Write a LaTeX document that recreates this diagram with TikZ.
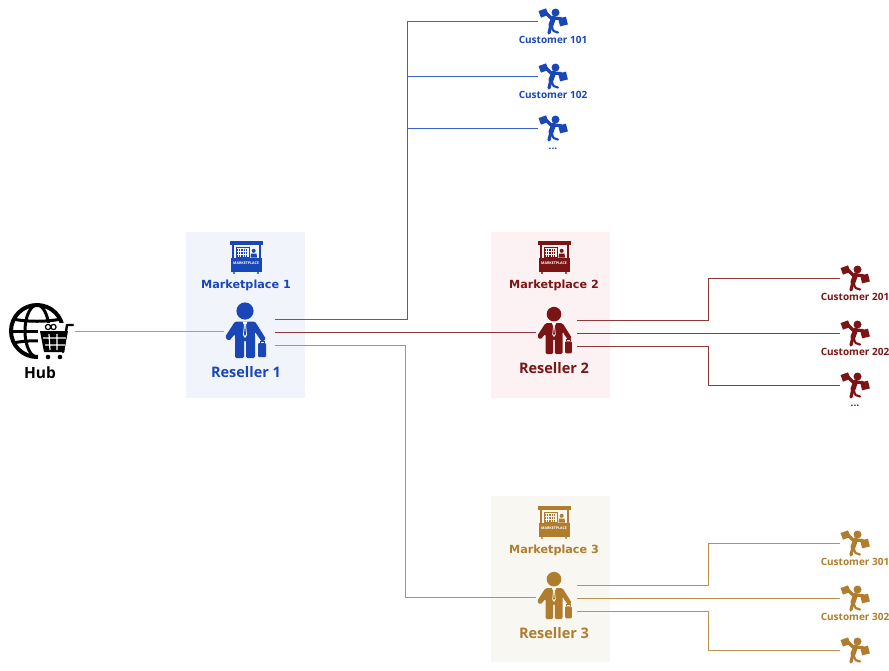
\documentclass[tikz,border=0pt]{standalone}
\usepackage{fontspec}
\setmainfont{Open Sans}
\newfontfamily\widefont{DejaVu Sans}
\definecolor{blueres}{HTML}{1A47B8}
\definecolor{redres}{HTML}{7B1515}
\definecolor{tanres}{HTML}{B07D2E}
\definecolor{blueline}{HTML}{3A62CC}
\definecolor{bluepanel}{HTML}{F1F4FB}
\definecolor{redpanel}{HTML}{FDF2F3}
\definecolor{tanpanel}{HTML}{F8F7F2}
\def\moredots{...}
\tikzset{
	anchorbox/.style={inner sep=0pt,minimum width=#1,minimum height=10pt},
	panel/.style={inner sep=0pt,minimum width=119pt,minimum height=166pt},
	custlabel/.style={font=\fontsize{10}{10}\selectfont\bfseries},
	reslabel/.style={font=\fontsize{14.5}{14}\selectfont\bfseries},
	marklabel/.style={font=\widefont\fontsize{11.2}{10}\selectfont\bfseries},
	pics/reseller/.style={code={
		\fill[#1] (0,-21) circle (8.6);
		\fill[#1,rounded corners=1.5pt] (-10,-10.5) -- (10,-10.5) -- (21,7) -- (17,10) -- (10,0) -- (10,26) -- (1,26) -- (1,8) -- (-1,8) -- (-1,26) -- (-10,26) -- (-10,2) -- (-16,9) -- (-20,5) -- cycle;
		\fill[white] (-2.5,-10.5) -- (2.5,-10.5) -- (1,-7) -- (2,3) -- (0,6) -- (-2,3) -- (-1,-7) -- cycle;
		\fill[#1] (0,-8) -- (1,2) -- (0,4) -- (-1,2) -- cycle;
		\fill[#1,rounded corners=1pt] (13,11) rectangle (21,25);
		\draw[#1,line width=.8pt] (15,11) -- (15,9) -- (19,9) -- (19,11);
		\draw[white,line width=.7pt] (10.5,1) -- (12.5,10) -- (12.5,25);
	}},
	pics/customer/.style={code={
		\fill[#1] (2.5,-8.5) circle (4);
		\draw[#1,line width=3.2pt,line cap=round,line join=round] (-7,-8) -- (-2,-3) -- (8,-2.5);
		\draw[#1,line width=5pt,line cap=round] (.5,-3) -- (-2,4);
		\draw[#1,line width=3.2pt,line cap=round] (-2,4) -- (-4,12);
		\draw[#1,line width=2.2pt,line cap=round] (-1,5) .. controls (-1,10) and (2,11.5) .. (5,11.5);
		\fill[#1,rotate around={20:(-9.5,-8)}] (-13.5,-11.5) rectangle (-5.5,-4.5);
		\fill[#1,rotate around={14:(10,.5)}] (6,-3.5) rectangle (14,4.5);
	}},
	pics/stall/.style={code={
		\fill[#1] (-16.5,-16) rectangle (16.5,-12);
		\fill[#1] (-14.5,-12) rectangle (-12.5,1);
		\fill[#1] (12.5,-12) rectangle (14.5,1);
		\draw[#1,line width=1pt] (-10,-9.5) rectangle (3,.5);
		\foreach \yy in {-7,-4,-1}
			\draw[#1,line width=1.2pt,densely dotted] (-9,\yy) -- (2,\yy);
		\fill[#1] (7.7,-6.2) circle (2);
		\fill[#1] (4.5,.5) -- (5,-3.5) -- (10.5,-3.5) -- (11,.5) -- cycle;
		\fill[#1] (-15.5,.5) rectangle (15.5,14.5);
		\node[white,inner sep=0pt,font=\fontsize{3.6}{4}\selectfont\bfseries] at (0,6.5) {MARKETPLACE};
		\fill[#1] (-12,16) circle (1.2);
		\fill[#1] (12,16) circle (1.2);
	}},
	pics/hub/.style={code={
		\draw[black,line width=4pt] (0,0) circle (26);
		\draw[black,line width=3pt] (0,0) ellipse (12 and 26);
		\draw[black,line width=3pt] (-24,-12) .. controls (-10,-9) and (10,-9) .. (24,-12);
		\draw[black,line width=3pt] (-27,0) -- (27,0);
		\draw[black,line width=3pt] (-24,12) .. controls (-10,9) and (10,9) .. (24,12);
		\fill[white] (1,-8) -- (31,-8) -- (36,31) -- (1,31) -- cycle;
		\fill[black] (3,0) -- (31,0) -- (27,21) -- (7,21) -- cycle;
		\draw[black,line width=2.4pt,line cap=round,line join=round] (36,-6) -- (30,-6) -- (26,21);
		\draw[white,line width=1.2pt] (6,7) -- (29,7) (8,14) -- (28,14) (12,3) -- (13,19) (20,3) -- (20,19);
		\fill[black] (11,26) circle (2.3);
		\fill[black] (23,26) circle (2.3);
		\draw[black,line width=1.2pt] (11,-4) circle (2.6) (16.5,-4) circle (2.6);
	}},
}
\begin{document}
\begin{tikzpicture}[x=1pt,y=-1pt,line width=.9pt]
	\useasboundingbox (0,0) rectangle (889,670);
	\node (p1) at (245.5,315) [panel,fill=bluepanel] {};
	\node (p2) at (550.5,315) [panel,fill=redpanel] {};
	\node (p3) at (550.5,579) [panel,fill=tanpanel] {};

	\node (hub) at (37,331.5) [anchorbox=76pt] {};
	\pic at (37,331) {hub};
	\node (hubl) at (40,373) [font=\fontsize{15.5}{15}\selectfont\bfseries] {Hub};

	\node (r1) at (245,331.5) [anchorbox=42pt] {};
	\node (r2) at (554,332) [anchorbox=36pt] {};
	\node (r3) at (554,597) [anchorbox=36pt] {};
	\pic at (245,332) {reseller=blueres};
	\pic [scale=.85] at (r2) {reseller=redres};
	\pic [scale=.85] at (r3) {reseller=tanres};
	\node (r1l) at (246,372) [reslabel,text=blueres] {Reseller 1};
	\node (r2l) at (554,368) [reslabel,text=redres] {Reseller 2};
	\node (r3l) at (554,633) [reslabel,text=tanres] {Reseller 3};

	\pic at (246,257) {stall=blueres};
	\pic at (554,257) {stall=redres};
	\pic at (554,522) {stall=tanres};
	\node (m1) at (246,285) [marklabel,text=blueres] {Marketplace 1};
	\node (m2) at (554,285) [marklabel,text=redres] {Marketplace 2};
	\node (m3) at (554,550) [marklabel,text=tanres] {Marketplace 3};

	\foreach \cname/\cx/\cy/\ldy/\ccol/\ctxt in {c101/553/21/19/blueres/Customer 101,c102/553/76/19/blueres/Customer 102,c103/553/128/21/blueres/\moredots,c201/855/278/19/redres/Customer 201,c202/855/333/19/redres/Customer 202,c203/855/385/21/redres/\moredots,c301/855/543/19/tanres/Customer 301,c302/855/598/19/tanres/Customer 302} {
		\node (\cname) at (\cx,\cy) [anchorbox=30pt] {};
		\pic at (\cname) {customer=\ccol};
		\node (\cname l) at (\cx,\cy+\ldy) [custlabel,text=\ccol] {\ctxt};
	}
	\node (c303) at (855,650) [anchorbox=30pt] {};
	\pic at (c303) {customer=tanres};

	\coordinate (a1) at (275,319);
	\coordinate (a2) at (275,332);
	\coordinate (a3) at (275,345);
	\coordinate (b1) at (577,320);
	\coordinate (b2) at (577,333);
	\coordinate (b3) at (577,346);
	\coordinate (d1) at (577,585);
	\coordinate (d2) at (577,598);
	\coordinate (d3) at (577,611);
	\coordinate (busa) at (407,0);
	\coordinate (busb) at (405,0);
	\coordinate (busc) at (708,0);

	\draw [gray!75] (hub) -- (r1);
	\draw [blueline] (a1) -- (a1 -| busa) |- (c101.west);
	\draw [blueline] (c102.west) -- (c102.west -| busa);
	\draw [blueline] (c103.west) -- (c103.west -| busa);
	\draw [redres!85] (a2) -- (r2.west);
	\draw [tanres!85] (a3) -- (a3 -| busb) |- (r3.west);
	\draw [redres!85] (b1) -- (b1 -| busc) |- (c201.west);
	\draw [redres!85] (b2) -- (c202.west);
	\draw [redres!85] (b3) -- (b3 -| busc) |- (c203.west);
	\draw [tanres!85] (d1) -- (d1 -| busc) |- (c301.west);
	\draw [tanres!85] (d2) -- (c302.west);
	\draw [tanres!85] (d3) -- (d3 -| busc) |- (c303.west);
\end{tikzpicture}
\end{document}
